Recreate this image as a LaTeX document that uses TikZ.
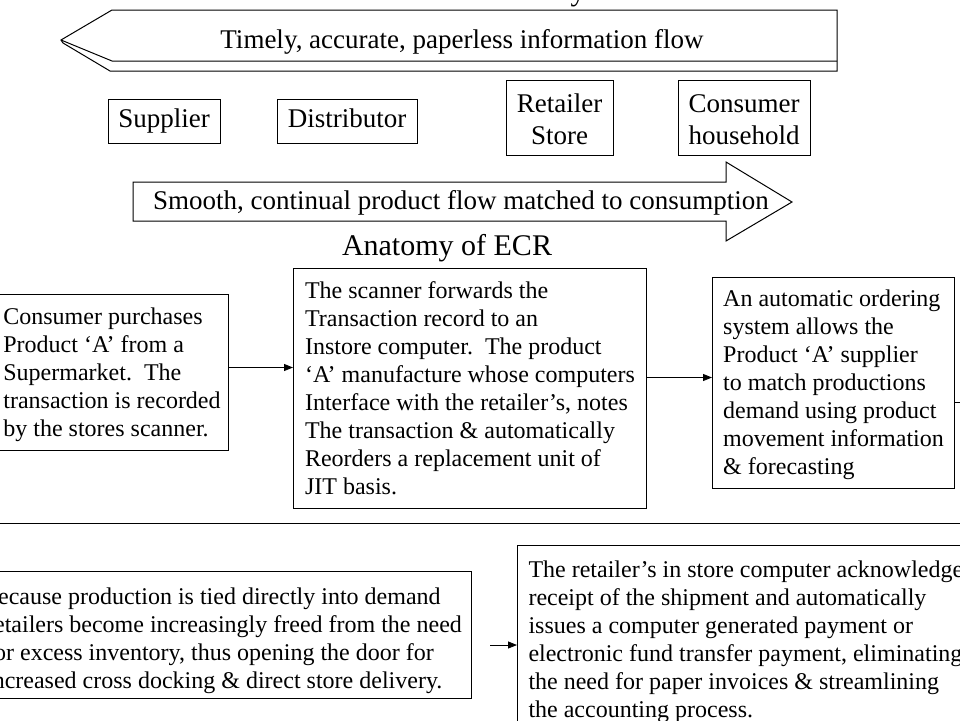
\documentclass[tikz,border=0pt]{standalone}
\usepackage{fontspec}
\setmainfont{Liberation Serif}
\usetikzlibrary{arrows.meta}
\newcommand{\topgap}[1]{\rule{0pt}{#1}}
\begin{document}
\begin{tikzpicture}[x=1pt,y=-1pt,
  box/.style={draw,line width=1pt,align=flush left,inner xsep=0pt,inner ysep=0pt,font=\fontsize{24}{28}\selectfont},
  lbl/.style={draw,line width=1pt,align=center,inner sep=0pt,font=\fontsize{27}{32}\selectfont},
  big/.style={inner sep=0pt,font=\fontsize{27}{32}\selectfont},
  arr/.style={-{Triangle[length=9pt,width=7pt]},line width=0.9pt},
  ln/.style={line width=1pt}]
\useasboundingbox (0,0) rectangle (960,720);
\clip (0,0) rectangle (960,720);

% cut-off title fragment
\node[inner sep=0pt,anchor=base,font=\fontsize{30}{36}\selectfont] (ttl) at (578,1) {y};

% top (left-pointing) arrow
\draw[ln,line join=miter] (112,10) -- (837,10) -- (837,71) -- (110,71) -- (63,43) -- (61,40) -- cycle;
\draw[ln] (61,40) -- (112,61) -- (837,61);
\node[big] (info) at (462,42) {Timely, accurate, paperless information flow};

% chain members
\node[lbl,minimum width=112pt,minimum height=44pt] (sup) at (164,121.5) {Supplier\strut};
\node[lbl,minimum width=140pt,minimum height=44pt] (dist) at (347,121.5) {Distributor\strut};
\node[lbl,minimum width=107pt,minimum height=75pt] (ret) at (559.5,118) {\topgap{22pt}Retailer\\Store};
\node[lbl,minimum width=132pt,minimum height=75pt] (cons) at (744,118) {\topgap{22pt}Consumer\\household};

% bottom (right-pointing) arrow
\draw[ln] (133,182) -- (726,182) -- (726,162) -- (792,202) -- (726,241) -- (726,221) -- (133,221) -- cycle;
\node[big] (prod) at (461,203) {Smooth, continual product flow matched to consumption};

\node[inner sep=0pt,font=\fontsize{30}{36}\selectfont] (anat) at (447,248) {Anatomy of ECR};

% process boxes
\node[box,anchor=north west,minimum width=233pt,minimum height=156pt] (b1) at (-5,294)
 {\topgap{20.5pt}Consumer purchases\\Product ‘A’ from a\\Supermarket.~~The\\transaction is recorded\\by the stores scanner.};
\node[box,anchor=north west,minimum width=353pt,minimum height=240pt] (b2) at (293,268)
 {The scanner forwards the\\Transaction record to an\\Instore computer.~~The product\\‘A’ manufacture whose computers\\Interface with the retailer’s, notes\\The transaction \& automatically\\Reorders a replacement unit of\\JIT basis.};
\node[box,anchor=north west,minimum width=242pt,minimum height=211pt] (b3) at (712,277)
 {\topgap{20.5pt}An automatic ordering\\system allows the\\Product ‘A’ supplier\\to match productions\\demand using product\\movement information\\\& forecasting};

\coordinate (a1s) at ([yshift=5pt]b1.east);
\draw[arr] (a1s) -- (a1s -| b2.west);
\coordinate (a2s) at ([yshift=11pt]b2.east);
\draw[arr] (a2s) -- (a2s -| b3.west);
\coordinate (b3s) at ([yshift=-19.5pt]b3.east);
\coordinate (edge3) at (975,402);
\draw[ln] (b3s) -- (b3s -| edge3);

% separator
\coordinate (sepL) at (-5,523);
\coordinate (sepR) at (965,523);
\draw[ln] (sepL) -- (sepR);

\node[box,anchor=north east,minimum width=495pt,minimum height=127pt] (b4) at (472,571)
 {\topgap{28pt}because production is tied directly into demand\\retailers become increasingly freed from the need\\for excess inventory, thus opening the door for\\increased cross docking \& direct store delivery.};
\node[box,anchor=north west,inner xsep=11pt,inner ysep=15pt,text width=470pt] (b5) at (517,545)
 {The retailer’s in store computer acknowledges\\receipt of the shipment and automatically\\issues a computer generated payment or\\electronic fund transfer payment, eliminating\\the need for paper invoices \& streamlining\\the accounting process.};

\coordinate (a3s) at (490,645);
\draw[arr] (a3s) -- (a3s -| b5.west);
\end{tikzpicture}
\end{document}
